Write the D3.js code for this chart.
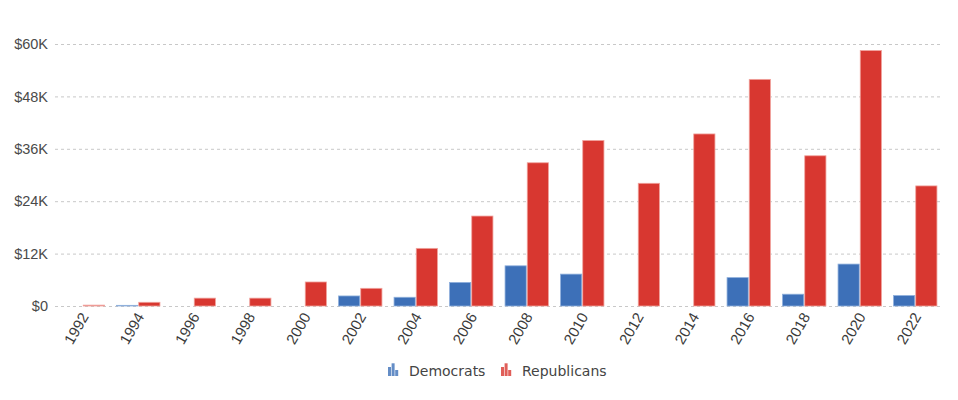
<!DOCTYPE html>
<html>
<head>
<meta charset="utf-8">
<script src="https://cdn.jsdelivr.net/npm/d3@7"></script>
<style>
  body { margin: 0; background: #fff; }
  svg { font-family: "DejaVu Sans", Verdana, sans-serif; }
</style>
</head>
<body>
<svg width="958" height="400"></svg>
<script>
// election cycles and contributions (thousands of dollars)
const years = ["1992","1994","1996","1998","2000","2002","2004","2006","2008","2010","2012","2014","2016","2018","2020","2022"]
const democrats   = [0, 0.15, 0, 0, 0, 2.3, 2.0, 5.4, 9.2, 7.3, 0, 0, 6.5, 2.7, 9.6, 2.4]
const republicans = [0.2, 0.85, 1.8, 1.8, 5.5, 4.05, 13.2, 20.6, 32.8, 37.9, 28.1, 39.4, 51.9, 34.4, 58.5, 27.5]
const yTicks = [0, 12, 24, 36, 48, 60]

const series = [
  { name: "Democrats", values: democrats, color: "#3d70b8", stroke: "#8fb0dc" },
  { name: "Republicans", values: republicans, color: "#d83730", stroke: "#f0a29c" }
]

const svg = d3.select('svg')
const margin = { left: 55, right: 15, top: 44, bottom: 94 }
const width = +svg.attr('width')
const height = +svg.attr('height')

const x = d3.scaleBand()
  .domain(years)
  .range([margin.left, width - margin.right])
  .paddingInner(0.2)
  .paddingOuter(0.1)
const xSub = d3.scaleBand()
  .domain(series.map(s => s.name))
  .range([0, x.bandwidth()])
const y = d3.scaleLinear()
  .domain([0, 60])
  .range([height - margin.bottom, margin.top])

// dashed grid lines with the dollar labels
const grid = svg.append('g')
  .attr('transform', `translate(${margin.left},0)`)
  .call(d3.axisLeft(y).tickValues(yTicks)
    .tickSize(-(width - margin.left - margin.right))
    .tickPadding(7)
    .tickFormat(d => d == 0 ? '$0' : '$' + d + 'K'))
grid.select('.domain').remove()
grid.selectAll('.tick line')
  .attr('stroke', '#c8c8c8')
  .attr('stroke-dasharray', '3,3')
grid.selectAll('.tick text')
  .attr('fill', '#4a4a4a')
  .attr('font-size', 14.5)

// grouped bars
const groups = svg.append('g')
  .selectAll('g')
  .data(years)
  .enter().append('g')
    .attr('transform', d => `translate(${x(d)},0)`)
groups.selectAll('rect')
  .data((d, i) => series.map(s => ({ s: s, v: s.values[i] })).filter(e => e.v > 0))
  .enter().append('rect')
    .attr('x', e => xSub(e.s.name) + 0.5)
    .attr('width', xSub.bandwidth() - 1)
    .attr('y', e => y(e.v))
    .attr('height', e => y(0) - y(e.v))
    .attr('fill', e => e.s.color)
    .attr('stroke', e => e.s.stroke)
    .attr('stroke-width', 0.8)

// slanted year labels
const xAxis = svg.append('g')
  .attr('transform', `translate(0,${y(0)})`)
  .call(d3.axisBottom(x).tickSize(0).tickPadding(0))
xAxis.select('.domain').remove()
xAxis.selectAll('.tick text')
  .attr('fill', '#3a3a3a')
  .attr('font-size', 15)
  .attr('text-anchor', 'end')
  .attr('transform', 'translate(2,8) rotate(-60)')
  .attr('dy', '0.35em')
  .attr('y', 0)

// legend with little bar-chart icons
const legendItems = [
  { name: "Democrats", color: "#3d70b8", x: 388 },
  { name: "Republicans", color: "#d83730", x: 501 }
]
const iconBars = [9, 12.7, 6]
const legend = svg.append('g').selectAll('g')
  .data(legendItems)
  .enter().append('g')
    .attr('transform', d => `translate(${d.x},376)`)
legend.selectAll('rect')
  .data(d => iconBars.map(h => ({ h: h, c: d.color })))
  .enter().append('rect')
    .attr('x', (d, i) => i * 3.6)
    .attr('y', d => -d.h)
    .attr('width', 3)
    .attr('height', d => d.h)
    .attr('fill', d => d.c)
    .attr('opacity', 0.8)
legend.append('text')
  .attr('x', 21)
  .attr('y', 0)
  .attr('font-size', 14)
  .attr('fill', '#444')
  .text(d => d.name)
</script>
</body>
</html>
